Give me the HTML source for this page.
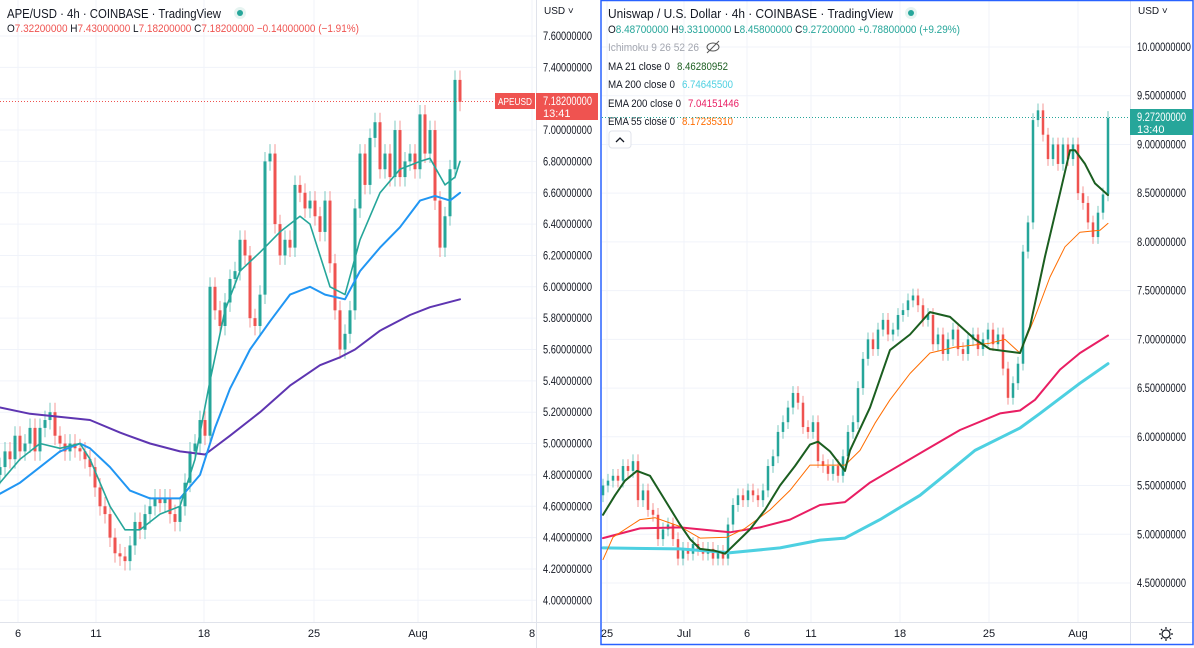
<!DOCTYPE html>
<html><head><meta charset="utf-8"><style>
html,body{margin:0;padding:0;background:#fff;}
body{position:relative;width:1194px;height:648px;overflow:hidden}
svg{display:block;font-family:"Liberation Sans",sans-serif;}
</style></head><body>
<svg id="c" width="1194" height="648" viewBox="0 0 1194 648">
</svg>
<script>
// ---------- LEFT: APE/USD ----------
const apeCloses=[4.85,4.95,4.9,5.05,4.95,5.0,5.1,4.95,5.1,5.15,5.2,5.05,5.0,4.95,5.0,4.97,4.95,4.9,4.85,4.72,4.6,4.55,4.4,4.3,4.28,4.25,4.35,4.5,4.45,4.55,4.6,4.65,4.62,4.65,4.55,4.5,4.6,4.75,4.95,5.0,5.15,5.05,6.0,5.85,5.75,5.9,6.05,6.1,6.3,6.2,5.8,5.75,5.95,6.8,6.85,6.4,6.2,6.3,6.25,6.65,6.6,6.5,6.55,6.45,6.35,6.55,6.15,5.85,5.6,5.7,5.85,6.5,6.85,6.65,6.95,7.05,6.75,6.85,6.7,7.0,6.7,6.8,6.85,6.75,7.1,6.85,7.0,6.55,6.25,6.45,6.75,7.32,7.18];
const apeOpen0=4.8;
const apeTicks=[7.6,7.4,7.2,7.0,6.8,6.6,6.4,6.2,6.0,5.8,5.6,5.4,5.2,5.0,4.8,4.6,4.4,4.2,4.0];
const apeTeal=[4.75,4.9,5.0,4.97,5.0,4.9,4.6,4.45,4.45,4.55,4.6,4.9,5.4,5.85,6.1,6.22,6.35,6.45,6.4,6.0,5.95,6.3,6.6,6.75,6.8,6.82,6.65,6.7,6.8];
const apeTealX=[0,20,40,60,80,90,110,125,140,160,180,195,210,225,240,260,280,300,310,330,345,360,380,400,420,430,445,455,460];
const apeBlue=[4.68,4.75,4.85,4.95,5.0,4.97,4.85,4.7,4.65,4.65,4.8,5.1,5.35,5.6,5.78,5.95,6.0,5.95,5.92,6.1,6.25,6.38,6.55,6.58,6.55,6.6];
const apeBlueX=[0,20,40,60,80,90,110,130,150,180,200,215,230,250,270,290,310,325,345,360,380,400,420,435,450,460];
const apePurple=[5.23,5.19,5.17,5.15,5.07,5.0,4.95,4.93,5.05,5.2,5.37,5.5,5.55,5.6,5.72,5.82,5.87,5.92];
const apePurpleX=[0,30,60,90,120,150,180,205,230,260,290,320,340,355,380,410,430,460];
const apeDates=["6","11","18","25","Aug","8"];
const apeDateX=[18,96,204,314,418,532];

// ---------- RIGHT: UNI/USD ----------
const uniCloses=[5.5,5.55,5.6,5.55,5.7,5.65,5.75,5.35,5.45,5.25,5.2,4.95,5.05,5.1,4.95,4.75,4.85,4.8,4.9,4.85,4.8,4.85,4.75,4.82,4.75,5.1,5.3,5.4,5.35,5.45,5.4,5.35,5.45,5.7,5.8,6.05,6.15,6.3,6.45,6.35,6.1,6.05,6.15,5.75,5.7,5.62,5.7,5.6,5.8,6.05,6.15,6.5,6.8,7.0,6.9,7.1,7.2,7.05,7.1,7.25,7.3,7.4,7.45,7.35,7.2,7.25,6.95,7.05,6.85,7.0,7.1,6.9,6.85,7.0,7.05,6.9,7.0,7.1,6.95,7.05,6.7,6.4,6.55,6.75,7.9,8.2,9.25,9.35,9.1,8.85,9.0,8.8,9.0,8.85,9.0,8.5,8.4,8.2,8.05,8.3,8.487,9.272];
const uniOpen0=5.4;
const uniTicks=[10.0,9.5,9.0,8.5,8.0,7.5,7.0,6.5,6.0,5.5,5.0,4.5];
const uniMA21=[5.2,5.4,5.55,5.65,5.6,5.35,5.1,4.95,4.85,4.83,4.8,4.9,5.05,5.25,5.5,5.7,5.92,5.95,5.85,5.65,5.86,6.3,6.89,7.05,7.28,7.23,7.0,6.9,6.86,7.13,7.85,8.5,8.94,8.94,8.8,8.6,8.48];
const uniMA21X=[603,615,625,637,650,665,680,690,700,715,725,735,750,765,780,795,810,818,830,845,850,870,890,910,930,950,975,990,1020,1030,1045,1060,1070,1075,1085,1095,1108];
const uniEMA55=[4.74,4.97,5.15,5.17,5.08,4.96,4.97,5.06,5.25,5.45,5.71,5.71,5.71,5.86,6.14,6.38,6.65,6.86,6.92,6.96,7.0,6.86,7.23,7.64,7.95,8.1,8.12,8.19];
const uniEMA55X=[603,613,640,655,680,700,727,745,770,790,810,830,845,860,875,890,910,930,955,990,1005,1020,1035,1050,1065,1080,1100,1108];
const uniEMA200=[4.96,5.06,5.07,5.02,5.07,5.15,5.3,5.33,5.53,5.86,6.07,6.24,6.27,6.38,6.69,6.86,7.04];
const uniEMA200X=[603,640,680,730,760,790,820,845,870,925,960,1000,1020,1035,1060,1080,1108];
const uniMA200=[4.86,4.85,4.81,4.86,4.94,4.96,5.15,5.4,5.65,5.86,6.09,6.24,6.55,6.75];
const uniMA200X=[603,680,730,780,820,845,880,920,950,975,1020,1040,1080,1108];
const uniDates=["25","Jul","6","11","18","25","Aug"];
const uniDateX=[607,684,747,811,900,989,1078];

const NS="http://www.w3.org/2000/svg";
const svg=document.getElementById('c');
function mk(tag,attrs,parent){const e=document.createElementNS(NS,tag);for(const k in attrs)e.setAttribute(k,attrs[k]);(parent||svg).appendChild(e);return e;}
function txt(s,x,y,attrs,parent){const t=mk('text',Object.assign({x:x,y:y},attrs),parent);t.textContent=s;return t;}

const UP="#26a69a",DN="#ef5350",GRID="#f0f3fa";

function drawPanel(P){
  const g=mk('g',{});
  
  
  P.ticks.forEach(v=>{const l=mk('line',{x1:P.x0,x2:P.axisX,y1:P.y(v),y2:P.y(v),stroke:GRID,'stroke-width':1},g);
    });
  P.dateX.forEach(x=>{const l=mk('line',{x1:x,x2:x,y1:0,y2:622,stroke:GRID,'stroke-width':1},g);
    });
  mk('line',{x1:P.axisX+0.5,x2:P.axisX+0.5,y1:0,y2:P.bottom,stroke:'#e0e3eb'},g);
  mk('line',{x1:P.x0,x2:P.right,y1:622.5,y2:622.5,stroke:'#e0e3eb'},g);
  const n=P.closes.length;
  const step=(P.xLast-P.xFirst)/(n-1);
  let prev=P.open0;
  const cg=mk('g',{},g);
  
  P.closes.forEach((c,i)=>{
    const x=P.xFirst+i*step;
    const o=prev;prev=c;
    const col=c>=o?UP:DN;
    const hi=Math.max(o,c)+P.wick,lo=Math.min(o,c)-P.wick;
    const w=mk('line',{x1:x,x2:x,y1:P.y(hi),y2:P.y(lo),stroke:col,'stroke-width':1,opacity:0.6},cg);
    
    const yt=P.y(Math.max(o,c)),yb=P.y(Math.min(o,c));
    const r=mk('rect',{x:x-P.bw/2,y:yt,width:P.bw,height:Math.max(1,yb-yt),fill:col},cg);
    
  });
  P.lines.forEach(L=>{
    const d=L.vals.map((v,i)=>(i?'L':'M')+L.xs[i]+' '+P.y(v).toFixed(1)).join(' ');
    const p=mk('path',{d:d,fill:'none',stroke:L.color,'stroke-width':L.w,'stroke-linejoin':'round','stroke-linecap':'round'},g);
    
  });
  P.ticks.forEach(v=>{const s=v.toFixed(8);const t=txt(s,P.axisX+7,P.y(v)+4,{'font-size':11.5,fill:'#131722',textLength:(s.length*4.9).toFixed(1),lengthAdjust:'spacingAndGlyphs'},g);
    });
  P.dates.forEach((d,i)=>{const t=txt(d,P.dateX[i],637,{'font-size':11,fill:'#131722','text-anchor':'middle'},g);
    });
  const u=txt('USD ˅',P.axisX+8,14,{'font-size':10,fill:'#131722'},g);
  
  return g;
}

const apeY=v=>36+(7.6-v)*156.75;
drawPanel({name:'ape-chart',x0:0,axisX:536,right:600,bottom:648,y:apeY,ticks:apeTicks,dateX:apeDateX,dates:apeDates,
  closes:apeCloses,open0:apeOpen0,xFirst:0,xLast:460,bw:3,wick:0.06,
  lines:[{name:'ape-ma-long',vals:apePurple,xs:apePurpleX,color:'#5e35b1',w:2},
         {name:'ape-ma-mid',vals:apeBlue,xs:apeBlueX,color:'#2196f3',w:2},
         {name:'ape-ma-short',vals:apeTeal,xs:apeTealX,color:'#26a69a',w:1.6}]});

const uniY=v=>47+(10-v)*97.45;
drawPanel({name:'uni-chart',x0:602,axisX:1130,right:1193,bottom:645,y:uniY,ticks:uniTicks,dateX:uniDateX,dates:uniDates,
  closes:uniCloses,open0:uniOpen0,xFirst:603,xLast:1108,bw:2.5,wick:0.07,
  lines:[{name:'uni-ma200-line',vals:uniMA200,xs:uniMA200X,color:'#4dd0e1',w:3},
         {name:'uni-ema200-line',vals:uniEMA200,xs:uniEMA200X,color:'#e91e63',w:2},
         {name:'uni-ema55-line',vals:uniEMA55,xs:uniEMA55X,color:'#ff6d00',w:1},
         {name:'uni-ma21-line',vals:uniMA21,xs:uniMA21X,color:'#1b5e20',w:2}]});
</script>
<svg width="1194" height="648" viewBox="0 0 1194 648" style="position:absolute;left:0;top:0" font-family="Liberation Sans, sans-serif">
  <text x="7" y="18" font-size="13" fill="#131722" textLength="214" lengthAdjust="spacingAndGlyphs">APE/USD · 4h · COINBASE · TradingView</text>
  <circle cx="240" cy="13" r="6" fill="#e6f4f1"/><circle cx="240" cy="13" r="3" fill="#26a69a"/>
  <text x="7" y="32" font-size="11" fill="#ef5350" textLength="352" lengthAdjust="spacingAndGlyphs"><tspan fill="#131722">O</tspan>7.32200000 <tspan fill="#131722">H</tspan>7.43000000 <tspan fill="#131722">L</tspan>7.18200000 <tspan fill="#131722">C</tspan>7.18200000 −0.14000000 (−1.91%)</text>
  <line x1="0" y1="101.5" x2="536" y2="101.5" stroke="#ef5350" stroke-dasharray="1,2"/>
  <rect x="495" y="93" width="40" height="16" fill="#ef5350"/>
  <text x="515" y="105" font-size="10" fill="#fff" text-anchor="middle" textLength="34" lengthAdjust="spacingAndGlyphs">APEUSD</text>
  <rect x="536" y="93" width="62" height="27" fill="#ef5350"/>
  <text x="543" y="105" font-size="11.5" fill="#fff" textLength="49" lengthAdjust="spacingAndGlyphs">7.18200000</text>
  <text x="543" y="117" font-size="11" fill="#fff">13:41</text>
  <rect x="601" y="0.5" width="592" height="644" fill="none" stroke="#2962ff" stroke-width="1.5"/>
  <text x="608" y="18" font-size="13" fill="#131722" textLength="285" lengthAdjust="spacingAndGlyphs">Uniswap / U.S. Dollar · 4h · COINBASE · TradingView</text>
  <circle cx="911" cy="13" r="6" fill="#e6f4f1"/><circle cx="911" cy="13" r="3" fill="#26a69a"/>
  <text x="608" y="33" font-size="11" fill="#26a69a" textLength="352" lengthAdjust="spacingAndGlyphs"><tspan fill="#131722">O</tspan>8.48700000 <tspan fill="#131722">H</tspan>9.33100000 <tspan fill="#131722">L</tspan>8.45800000 <tspan fill="#131722">C</tspan>9.27200000 +0.78800000 (+9.29%)</text>
  <text x="608" y="51" font-size="11" fill="#a3a6af" textLength="91" lengthAdjust="spacingAndGlyphs">Ichimoku 9 26 52 26</text>
  <g stroke="#555" fill="none"><ellipse cx="713" cy="47" rx="6" ry="4"/><line x1="707" y1="53" x2="719" y2="41"/></g>
  <text x="608" y="70" font-size="11" fill="#131722" textLength="62" lengthAdjust="spacingAndGlyphs">MA 21 close 0</text>
  <text x="677" y="70" font-size="11" fill="#1b5e20" textLength="51" lengthAdjust="spacingAndGlyphs">8.46280952</text>
  <text x="608" y="88" font-size="11" fill="#131722" textLength="67" lengthAdjust="spacingAndGlyphs">MA 200 close 0</text>
  <text x="682" y="88" font-size="11" fill="#4dd0e1" textLength="51" lengthAdjust="spacingAndGlyphs">6.74645500</text>
  <text x="608" y="107" font-size="11" fill="#131722" textLength="73" lengthAdjust="spacingAndGlyphs">EMA 200 close 0</text>
  <text x="688" y="107" font-size="11" fill="#e91e63" textLength="51" lengthAdjust="spacingAndGlyphs">7.04151446</text>
  <text x="608" y="125" font-size="11" fill="#131722" textLength="67" lengthAdjust="spacingAndGlyphs">EMA 55 close 0</text>
  <text x="682" y="125" font-size="11" fill="#ff6d00" textLength="51" lengthAdjust="spacingAndGlyphs">8.17235310</text>
  <rect x="609" y="131" width="22" height="17" rx="3" fill="#fff" stroke="#e0e3eb"/>
  <path d="M616 142 L620 138 L624 142" stroke="#131722" fill="none" stroke-width="1.3"/>
  <line x1="602" y1="117.5" x2="1130" y2="117.5" stroke="#26a69a" stroke-dasharray="1,2"/>
  <rect x="1130" y="109" width="63" height="26" fill="#26a69a"/>
  <text x="1137" y="121" font-size="11.5" fill="#fff" textLength="49" lengthAdjust="spacingAndGlyphs">9.27200000</text>
  <text x="1137" y="133" font-size="11" fill="#fff">13:40</text>
  <g stroke="#131722" fill="none" stroke-width="1.2">
    <circle cx="1166" cy="634" r="4"/>
    <path d="M1166 627v2M1166 639v2M1159 634h2M1171 634h2M1161 629l1.4 1.4M1169.6 637.6l1.4 1.4M1161 639l1.4-1.4M1169.6 630.4l1.4-1.4"/>
  </g>
</svg>
</body></html>
